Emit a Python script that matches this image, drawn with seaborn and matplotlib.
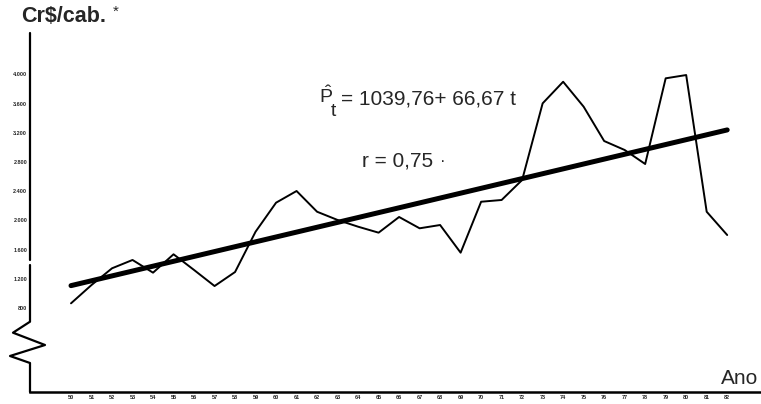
import matplotlib
matplotlib.use("Agg")
import matplotlib.pyplot as plt
import seaborn as sns
import numpy as np
import pandas as pd

# anos (1950-1982) e valores (Cr$/cab.)
anos = list(range(1950, 1983))
valores = [864, 1115, 1344, 1458, 1284, 1536, 1321, 1101, 1293, 1845,
           2243, 2403, 2119, 2006, 1914, 1832, 2047, 1892, 1937, 1558,
           2256, 2280, 2554, 3604, 3900, 3558, 3088, 2965, 2773, 3947,
           3992, 2119, 1800]
y_ticks = [800, 1200, 1600, 2000, 2400, 2800, 3200, 3600, 4000]
y_tick_labels = ["800", "1.200", "1.600", "2.000", "2.400", "2.800", "3.200", "3.600", "4.000"]
x_tick_labels = [str(a - 1900) for a in anos]

# reta de tendência: P = 1039,76 + 66,67 t  (t = 1 em 1950)
a0, a1 = 1039.76, 66.67
t = np.arange(1, len(anos) + 1)
df = pd.DataFrame({"ano": anos, "valor": valores, "tend": a0 + a1 * t})

sns.set_style("white")
plt.rcParams["font.family"] = ["Liberation Sans", "DejaVu Sans"]
plt.rcParams["mathtext.fontset"] = "custom"
plt.rcParams["mathtext.rm"] = "Liberation Sans"
plt.rcParams["mathtext.it"] = "Liberation Sans"

W, H = 761, 404
fig = plt.figure(figsize=(W / 100, H / 100), dpi=100)
ax = fig.add_axes([30 / W, (H - 392) / H, (760 - 30) / W, (392 - 33) / H])

sns.lineplot(data=df, x="ano", y="valor", ax=ax, color="black", linewidth=1.4)
sns.lineplot(data=df, x="ano", y="tend", ax=ax, color="black", linewidth=3.6,
             solid_capstyle="round")

ax.set_xlim(1948.0, 1983.6)
ax.set_ylim(-351, 4568)
ax.set_xticks(anos)
ax.set_xticklabels(x_tick_labels, fontsize=4, fontweight="bold")
ax.set_yticks(y_ticks)
ax.set_yticklabels(y_tick_labels, fontsize=4, fontweight="bold")
ax.tick_params(axis="both", direction="in", length=3, width=0.8, pad=2, color="black")
ax.set_xlabel("")
ax.set_ylabel("")
for s in ["top", "right", "left"]:
    ax.spines[s].set_visible(False)
ax.spines["bottom"].set_linewidth(1.8)
ax.spines["bottom"].set_color("black")

# eixo vertical com interrupção (zigue-zague)
def fy(py):
    return (392 - py) / (392 - 33)

def fx(px):
    return (px - 30) / (760 - 30)

ax.plot([0, 0], [fy(33), fy(260)], transform=ax.transAxes, color="black", lw=1.6, clip_on=False)
zx = [30, 30, 13, 45, 10, 30, 30]
zy = [265, 321.7, 332.7, 345, 356, 363, 392]
ax.plot([fx(v) for v in zx], [fy(v) for v in zy], transform=ax.transAxes,
        color="black", lw=1.6, clip_on=False)

fig.text(21 / W, 1 - 17 / H, "Cr$/cab.", fontsize=15.5, fontweight="bold", va="center", ha="left")
fig.text(113 / W, 1 - 12 / H, "*", fontsize=11, va="center", ha="left")
fig.text(319 / W, 1 - 96 / H, r"$\hat{\mathrm{P}}$", fontsize=14, va="center", ha="left")
fig.text(331 / W, 1 - 112 / H, "t", fontsize=14, va="center", ha="left")
fig.text(341 / W, 1 - 99 / H, "= 1039,76+ 66,67 t", fontsize=15, va="center", ha="left")
fig.text(362 / W, 1 - 161 / H, "r = 0,75", fontsize=15, va="center", ha="left")
fig.text(440 / W, 1 - 162 / H, "\u00b7", fontsize=12, va="center", ha="left")
fig.text(721 / W, 1 - 378 / H, "Ano", fontsize=15, va="center", ha="left")

fig.savefig("out.png", dpi=100)
